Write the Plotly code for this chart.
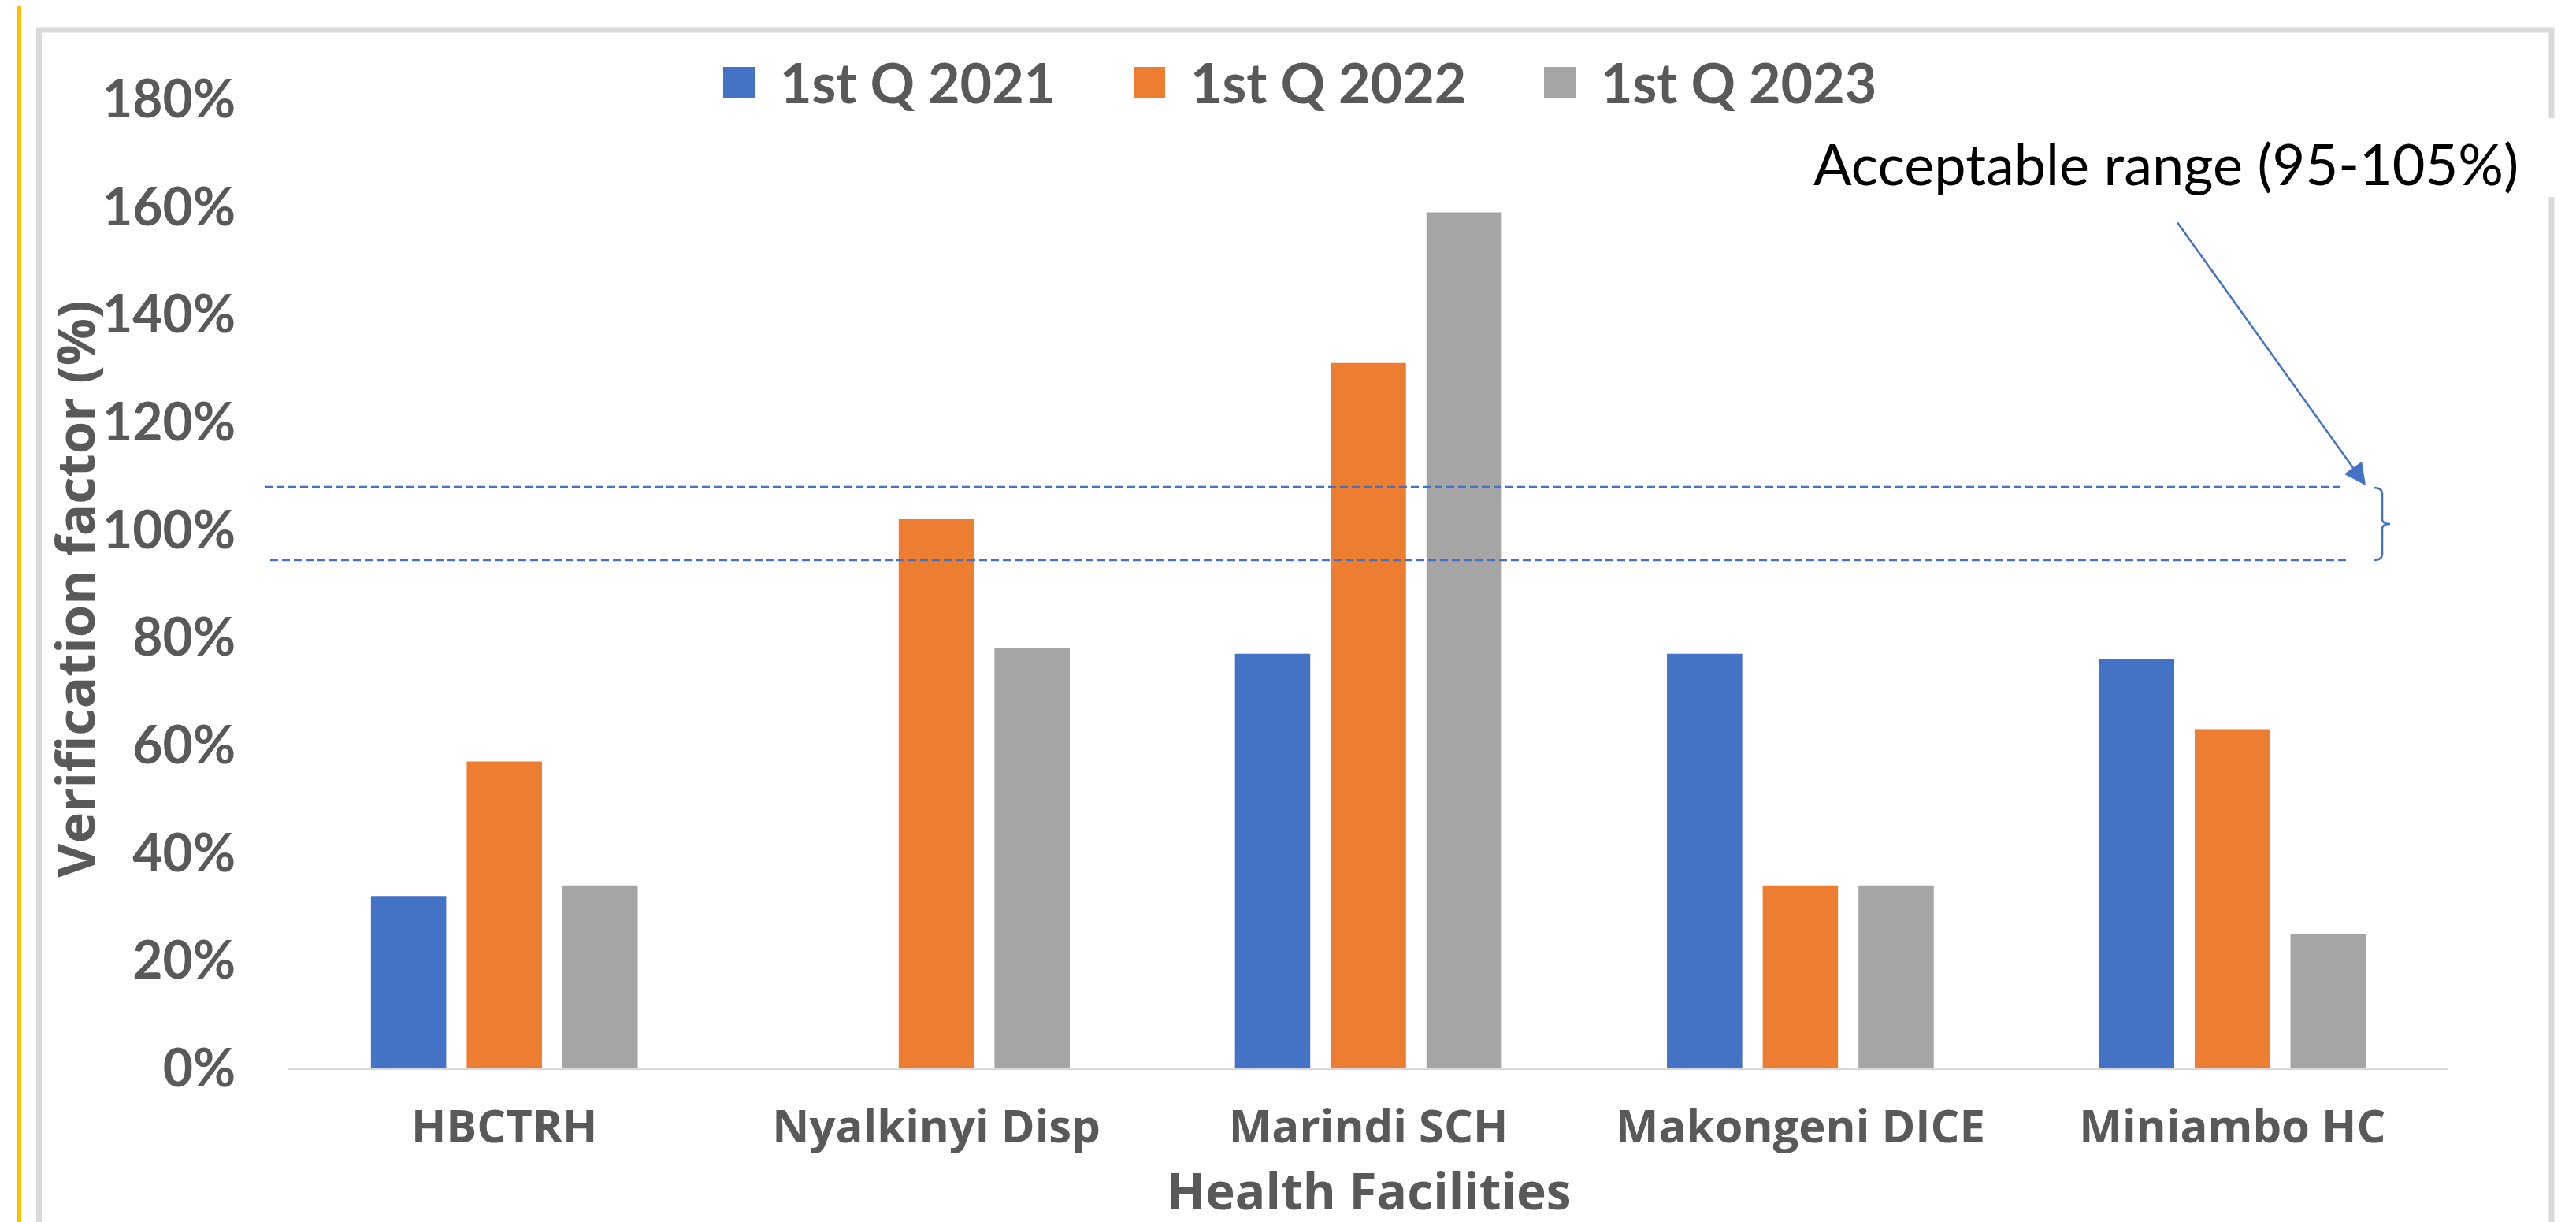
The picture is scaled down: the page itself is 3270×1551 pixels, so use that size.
import plotly.graph_objects as go

# ---------------- data ----------------
facilities = ["HBCTRH", "Nyalkinyi Disp", "Marindi SCH", "Makongeni DICE", "Miniambo HC"]
series_names = ["1st Q 2021", "1st Q 2022", "1st Q 2023"]
q1_2021 = [0.32, None, 0.77, 0.77, 0.76]
q1_2022 = [0.57, 1.02, 1.31, 0.34, 0.63]
q1_2023 = [0.34, 0.78, 1.59, 0.34, 0.25]
y_ticks = [0, 0.2, 0.4, 0.6, 0.8, 1.0, 1.2, 1.4, 1.6, 1.8]
y_ticklabels = ["0%", "20%", "40%", "60%", "80%", "100%", "120%", "140%", "160%", "180%"]
range_upper = 1.08
range_lower = 0.944
range_label = "Acceptable range (95-105%)"

colors = ["#4472C4", "#ED7D31", "#A5A5A5"]
values = [q1_2021, q1_2022, q1_2023]

W, H = 3270, 1551
def px(x):
    return x / W
def py(y):
    return 1 - y / H

TXT = "#595959"

fig = go.Figure()
for name, vals, col in zip(series_names, values, colors):
    fig.add_trace(go.Bar(x=facilities, y=vals, name=name, marker=dict(color=col, line=dict(width=0)),
                         showlegend=False))

fig.update_layout(
    width=W, height=H,
    margin=dict(l=0, r=0, t=0, b=0, autoexpand=False),
    paper_bgcolor="white", plot_bgcolor="white",
    barmode="group", bargap=0.335, bargroupgap=0.214,
    showlegend=False,
    xaxis=dict(domain=[px(358), px(3100)], showline=True, linecolor="#D9D9D9", linewidth=2,
               showgrid=False, ticks="", zeroline=False,
               tickfont=dict(family="Open Sans", size=58, color=TXT, weight="bold"),
               ticklabelstandoff=22, automargin=False),
    yaxis=dict(domain=[py(1348), py(118)], range=[0, 1.8], showline=False, showgrid=False,
               zeroline=False, ticks="", tickvals=y_ticks, ticktext=y_ticklabels,
               tickfont=dict(family="Lato", size=66, color=TXT, weight="bold"),
               ticklabelstandoff=66, automargin=False),
)

shapes = []
# yellow side line
shapes.append(dict(type="line", xref="paper", yref="paper", x0=px(16.5), x1=px(16.5), y0=-0.02, y1=1.02,
                   line=dict(color="#FFC000", width=5), layer="below"))
# chart area border
shapes.append(dict(type="rect", xref="paper", yref="paper", x0=px(41.5), x1=px(3231), y0=-0.05, y1=py(30),
                   line=dict(color="#D9D9D9", width=7), layer="below"))
# white patch behind annotation text over border
shapes.append(dict(type="rect", xref="paper", yref="paper", x0=px(3200), x1=px(3245), y0=py(242), y1=py(142),
                   line=dict(width=0), fillcolor="white", layer="below"))
# dashed acceptable-range lines
shapes.append(dict(type="line", xref="paper", yref="y", x0=px(328), x1=px(2967), y0=range_upper, y1=range_upper,
                   line=dict(color="#4472C4", width=2.5, dash="10px,5px")))
shapes.append(dict(type="line", xref="paper", yref="y", x0=px(335), x1=px(2975), y0=range_lower, y1=range_lower,
                   line=dict(color="#4472C4", width=2.5, dash="10px,5px")))
# curly bracket
bx0, bx1, bxt = 3005, 3016, 3026
by0, bym, by1 = 611, 657, 703
path = (f"M{px(bx0)},{py(by0)} Q{px(bx1)},{py(by0)} {px(bx1)},{py(by0+8)} "
        f"L{px(bx1)},{py(bym-6)} Q{px(bx1)},{py(bym)} {px(bxt)},{py(bym)} "
        f"Q{px(bx1)},{py(bym)} {px(bx1)},{py(bym+6)} "
        f"L{px(bx1)},{py(by1-8)} Q{px(bx1)},{py(by1)} {px(bx0)},{py(by1)}")
shapes.append(dict(type="path", xref="paper", yref="paper", path=path,
                   line=dict(color="#4472C4", width=2.5)))

# custom legend swatches
leg_x = [910, 1431, 1952]
for lx, col in zip(leg_x, colors):
    shapes.append(dict(type="rect", xref="paper", yref="paper", x0=px(lx), x1=px(lx + 40),
                       y0=py(117), y1=py(77), fillcolor=col, line=dict(width=0)))
fig.update_layout(shapes=shapes)

ann = []
for lx, name in zip(leg_x, series_names):
    ann.append(dict(xref="paper", yref="paper", x=px(lx + 70), y=py(96), xanchor="left", yanchor="middle",
                    text=name, showarrow=False,
                    font=dict(family="Lato", size=70, color=TXT, weight="bold")))
# axis titles
ann.append(dict(xref="paper", yref="paper", x=px(86), y=py(740), xanchor="center", yanchor="middle",
                text="Verification factor (%)", textangle=-90, showarrow=False,
                font=dict(family="Open Sans", size=67, color=TXT, weight="bold")))
ann.append(dict(xref="paper", yref="paper", x=px(1730), y=py(1547), xanchor="center", yanchor="bottom",
                text="Health Facilities", showarrow=False, borderpad=0,
                font=dict(family="Open Sans", size=64, color=TXT, weight="bold")))
# range label and arrow
ann.append(dict(xref="paper", yref="paper", x=px(2741), y=py(199), xanchor="center", yanchor="middle",
                text=range_label, showarrow=False,
                font=dict(family="Lato", size=72, color="black")))
ann.append(dict(xref="paper", yref="paper", x=px(2995), y=py(608), ax=-240, ay=-335,
                axref="pixel", ayref="pixel", text="", showarrow=True,
                arrowhead=2, arrowsize=2.2, arrowwidth=2.5, arrowcolor="#4472C4"))
fig.update_layout(annotations=ann)

fig.write_html("out.html")
